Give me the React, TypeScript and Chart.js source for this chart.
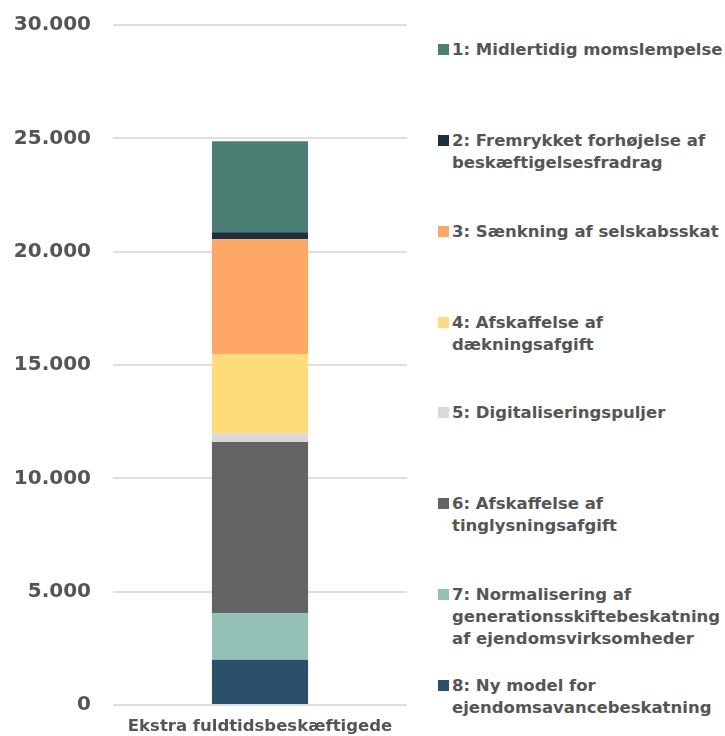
import React, { useEffect, useRef } from "react";
import { Chart, registerables } from "chart.js";

Chart.register(...registerables);

const categories = ["Ekstra fuldtidsbeskæftigede"];
const seriesLabels: string[][] = [
  ["1: Midlertidig momslempelse"],
  ["2: Fremrykket forhøjelse af", "beskæftigelsesfradrag"],
  ["3: Sænkning af selskabsskat"],
  ["4: Afskaffelse af", "dækningsafgift"],
  ["5: Digitaliseringspuljer"],
  ["6: Afskaffelse af", "tinglysningsafgift"],
  ["7: Normalisering af", "generationsskiftebeskatning", "af ejendomsvirksomheder"],
  ["8: Ny model for", "ejendomsavancebeskatning"],
];
const seriesValues = [4010, 310, 5070, 3500, 380, 7550, 2050, 2000];
const seriesColors = [
  "#4b7f74",
  "#1c2e40",
  "#ffa866",
  "#ffdb7c",
  "#d9d9d9",
  "#646464",
  "#94c1b6",
  "#2c4f6b",
];
const yMin = 0;
const yMax = 30000;
const yStep = 5000;

const FONT = "'DejaVu Sans', sans-serif";
const TEXT = "#555555";

export default function App() {
  const ref = useRef<HTMLCanvasElement | null>(null);

  useEffect(() => {
    if (!ref.current) return;
    // stack order bottom-up: 8 .. 1
    const order = seriesValues.map((_, i) => i).reverse();
    const chart = new Chart(ref.current, {
      type: "bar",
      data: {
        labels: categories,
        datasets: order.map((i) => ({
          label: seriesLabels[i].join(" "),
          data: [seriesValues[i]],
          backgroundColor: seriesColors[i],
          borderWidth: 0,
          categoryPercentage: 1,
          barPercentage: 0.327,
        })),
      },
      options: {
        animation: false,
        responsive: false,
        maintainAspectRatio: false,
        layout: { padding: { top: 25, right: 13, left: 0, bottom: 0 } },
        plugins: {
          legend: { display: false },
          tooltip: { enabled: false },
        },
        scales: {
          x: {
            stacked: true,
            grid: { display: false },
            border: { display: false },
            afterFit: (s: any) => {
              s.height = 31;
            },
            ticks: {
              color: TEXT,
              font: { family: FONT, weight: "bold", size: 16.5 },
              padding: 4,
            },
          },
          y: {
            stacked: true,
            min: yMin,
            max: yMax,
            border: { display: false },
            grid: { color: "#dedede", lineWidth: 2, drawTicks: false },
            afterFit: (s: any) => {
              s.width = 113;
              s.paddingTop = 0;
              s.paddingBottom = 0;
            },
            ticks: {
              stepSize: yStep,
              color: TEXT,
              padding: 22,
              font: { family: FONT, weight: "bold", size: 20 },
              callback: (v: any) =>
                Number(v) === 0 ? "0" : Number(v).toLocaleString("da-DK"),
            },
          },
        },
      },
    });
    return () => chart.destroy();
  }, []);

  return (
    <div
      style={{
        position: "absolute",
        left: 0,
        top: 0,
        width: 725,
        height: 736,
        overflow: "hidden",
        background: "#fff",
      }}
    >
      <canvas
        ref={ref}
        width={420}
        height={736}
        style={{ position: "absolute", left: 0, top: 0, width: 420, height: 736 }}
      />
      <div
        style={{
          position: "absolute",
          left: 438,
          top: 39,
          fontFamily: FONT,
          fontWeight: "bold",
          fontSize: 16.5,
          lineHeight: "22px",
          color: TEXT,
          whiteSpace: "nowrap",
        }}
      >
        {seriesLabels.map((lines, i) => (
          <div
            key={i}
            style={{ position: "relative", height: 90.86, paddingLeft: 14 }}
          >
            <span
              style={{
                position: "absolute",
                left: 0,
                top: 5,
                width: 11,
                height: 11,
                background: seriesColors[i],
              }}
            />
            {lines.map((l, j) => (
              <div key={j}>{l}</div>
            ))}
          </div>
        ))}
      </div>
    </div>
  );
}
